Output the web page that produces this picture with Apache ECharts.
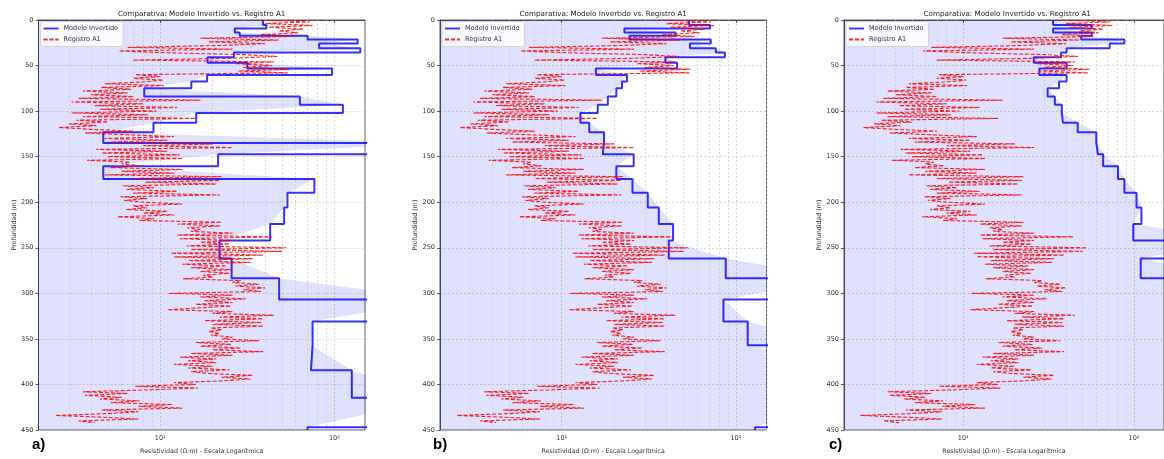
<!DOCTYPE html>
<html><head><meta charset="utf-8">
<script src="https://cdn.jsdelivr.net/npm/echarts@6/dist/echarts.min.js"></script>
<style>html,body{margin:0;padding:0;background:#fff}#c{width:1164px;height:459px}</style>
</head><body><div id="c"></div>
<script>
// ---- data ----
const layerTops = [0, 5.5, 9.2, 13.8, 17.2, 21.3, 25.8, 31, 35.6, 41, 46.8, 53.3, 60.5, 67.6, 75, 84, 93, 102.2, 112.8, 123.2, 135, 147.4, 160.5, 174.6, 189.5, 205.8, 223.8, 241.9, 261.9, 283.4, 306.7, 331, 357, 384.5, 414.7, 446.9];
const depthMax = 450;

const modeloA = [38.9, 40.7, 26.8, 28.6, 70.2, 136, 81.8, 141, 26.5, 18.7, 31.6, 97, 18.6, 15.1, 8.1, 63.4, 112, 16.1, 9.15, 4.71, 400, 21.5, 4.71, 76.8, 53.8, 51.5, 42.8, 21.9, 25.7, 48.2, 400, 75, 73.4, 126, 400, 70.2];
const modeloB = [53.8, 71.1, 22.9, 45.1, 24.5, 71.8, 54.5, 76.7, 86.5, 39.4, 46, 15.7, 23.7, 22.2, 20.6, 18.4, 16.1, 12.8, 14.4, 17.5, 17.2, 25.9, 20.6, 25.5, 31.2, 36.1, 43.6, 41.2, 87.5, 400, 84.9, 117, 400, 400, 400, 129];
const modeloC = [33.6, 56.6, 33.6, 56.6, 49.1, 87.9, 72.1, 40.3, 37.4, 25.9, 40.3, 27.9, 40.3, 36.4, 31.2, 34.4, 37.8, 38.4, 46.8, 60.2, 61.5, 66.0, 80.6, 87.9, 103.5, 110.6, 99.1, 400, 109.6, 400, 400, 400, 400, 400, 400, 400];

// Registro A1: one value every 2 m from 0 m
const registroStep = 2;
const registroA1 = [
 38, 72, 40, 75, 42, 66, 48, 62, 38, 58,
 17, 48, 19, 40, 22, 6.5, 26, 5.8, 11, 30,
 47, 26, 7, 45, 27, 44, 30, 55, 28, 54,
 7.2, 10, 7, 10.4, 8, 4.8, 10.5, 4.6, 6.8, 3.6,
 6.5, 4, 7, 3.4, 17, 3.1, 8, 4.2, 12.5, 4.5,
 9.5, 3.1, 8.5, 3.6, 16, 3.3, 5, 3, 4.3, 2.6,
 4, 7, 3.7, 6.5, 12, 4.8, 11, 5.2, 20, 8,
 26, 4.3, 11, 4.6, 13, 5, 13.5, 3.8, 6.7, 6,
 7.7, 5.2, 13.4, 6, 12, 4.8, 22.5, 7, 22, 8.2,
 21, 6.1, 9.2, 6.4, 12.5, 7, 22, 5.9, 8.4, 6.2,
 8, 13.4, 7, 8.4, 6.4, 11, 8, 12, 5.7, 9.2,
 7.6, 22.5, 12.6, 22, 14.3, 17, 15, 26, 12.5, 44,
 13, 26, 17, 25, 14.2, 53, 15, 50, 11.5, 39,
 12, 34, 14.5, 33, 13.4, 24, 15, 26, 17, 25,
 17.7, 20, 13.5, 29, 26, 37, 27, 40, 30, 38,
 11.2, 26, 17, 31, 18, 26, 16, 25.5, 16.5, 11,
 26, 20, 45, 22, 39, 18, 38, 20, 39, 19.5,
 22.5, 19, 22, 19.5, 26, 22.5, 37, 16, 25.5, 17,
 29, 20, 39, 15, 26, 13, 21, 14.5, 21, 12,
 20, 14.5, 25, 15, 19, 34, 22.5, 33, 23, 12,
 16, 7.2, 16.5, 8.5, 3.6, 6.5, 3.7, 6, 4.5, 7.6,
 5.2, 11.7, 7.5, 13.4, 4.6, 7.5, 5, 2.5, 4.7, 7.5,
 3.4, 4.2
];

const xMin = 2, xMax = 150;
const xMinorGrid = [3, 4, 5, 6, 7, 8, 9, 20, 30, 40, 50, 60, 70, 80, 90];
const panelLabels = ['a)', 'b)', 'c)'];
const titleText = 'Comparativa: Modelo Invertido vs. Registro A1';
const yName = 'Profundidad (m)';
const xName = 'Resistividad (Ω·m) - Escala Logarítmica';
const seriesNames = ['Modelo Invertido', 'Registro A1'];

// ---- build ----
const FONT = 'DejaVu Sans';
const panels = [
  { left: 38.5, model: modeloA, labelX: 32 },
  { left: 440, model: modeloB, labelX: 433 },
  { left: 844, model: modeloC, labelX: 829 }
];
const GW = 326.5, GT = 20, GH = 412.3;
const ICON_SOLID = 'path://M0,0h16v2h-16z';
const ICON_DASH = 'path://M0,0h4.5v2h-4.5zM6.3,0h4.5v2h-4.5zM12.6,0h3.4v2h-3.4z';

function stepPoints(model) {
  const pts = [];
  for (let i = 0; i < model.length; i++) {
    const top = layerTops[i];
    const bot = i + 1 < layerTops.length ? layerTops[i + 1] : depthMax;
    pts.push([model[i], top], [model[i], bot]);
  }
  return pts;
}
function bandPoints(model) {
  const pts = model.map((v, i) => [v, layerTops[i]]);
  pts.push([model[model.length - 1], depthMax]);
  pts.push([1, depthMax], [1, 0]);
  return pts;
}
const registroPts = registroA1.map((v, i) => [v, i * registroStep]);

const sup = { 0: '⁰', 1: '¹', 2: '²', 3: '³' };
function logLabel(v) {
  const p = Math.log10(v);
  if (Math.abs(p - Math.round(p)) < 1e-6) return '10' + sup[Math.round(p)];
  return '';
}

const grids = [], xAxes = [], yAxes = [], series = [], legends = [], graphics = [];
panels.forEach((p, k) => {
  grids.push({ left: p.left, top: GT, width: GW, height: GH, show: true, borderColor: '#333', borderWidth: 0.8, backgroundColor: 'transparent', containLabel: false });
  xAxes.push({
    type: 'log', logBase: 10, min: xMin, max: xMax, gridIndex: k,
    name: xName, nameLocation: 'middle', nameGap: 18,
    nameTextStyle: { fontFamily: FONT, fontSize: 6.3, color: '#333' },
    axisLine: { show: true, lineStyle: { color: '#333', width: 0.8 } },
    axisTick: { show: true, length: 3, lineStyle: { color: '#333', width: 0.8 } },
    axisLabel: { formatter: logLabel, fontFamily: FONT, fontSize: 6.5, color: '#333', margin: 5, showMinLabel: false, showMaxLabel: false },
    splitLine: { show: true, lineStyle: { color: '#c8c8c8', type: [2, 2], width: 0.7 } }
  });
  yAxes.push({
    type: 'value', inverse: true, min: 0, max: depthMax, interval: 50, gridIndex: k,
    name: yName, nameLocation: 'middle', nameGap: 20, nameRotate: 90,
    nameTextStyle: { fontFamily: FONT, fontSize: 6.3, color: '#333' },
    axisLine: { show: true, lineStyle: { color: '#333', width: 0.8 } },
    axisTick: { show: true, length: 3, lineStyle: { color: '#333', width: 0.8 } },
    axisLabel: { fontFamily: FONT, fontSize: 6.5, color: '#333', margin: 5 },
    splitLine: { show: true, lineStyle: { color: '#c8c8c8', type: [2, 2], width: 0.7 } }
  });
  const band = bandPoints(p.model);
  series.push({
    type: 'custom', xAxisIndex: k, yAxisIndex: k, clip: true, silent: true, z: 1,
    data: band,
    renderItem: function (params, api) {
      if (params.dataIndex !== 0) return;
      return { type: 'polygon', shape: { points: band.map(pt => api.coord(pt)) }, style: { fill: 'rgba(0,0,255,0.12)' } };
    }
  });
  series.push({
    type: 'line', name: seriesNames[0], xAxisIndex: k, yAxisIndex: k, z: 3,
    data: stepPoints(p.model), showSymbol: false, symbol: 'none', clip: true,
    lineStyle: { color: 'rgba(0,0,255,0.8)', width: 2 }, itemStyle: { color: 'rgba(0,0,255,0.8)' },
    markLine: {
      silent: true, z: 2, symbol: ['none', 'none'], label: { show: false }, animation: false,
      lineStyle: { color: '#c8c8c8', type: [2, 2], width: 0.7 },
      emphasis: { disabled: true },
      data: xMinorGrid.map(v => ({ xAxis: v }))
    }
  });
  series.push({
    type: 'line', name: seriesNames[1], xAxisIndex: k, yAxisIndex: k, z: 4,
    data: registroPts, showSymbol: false, symbol: 'none', clip: true,
    lineStyle: { color: 'rgba(255,0,0,0.85)', width: 1.1, type: [4, 1.8] }, itemStyle: { color: 'rgba(255,0,0,0.85)' }
  });
  legends.push({
    left: p.left + 2, top: 21.5, orient: 'vertical', itemWidth: 15, itemHeight: 2, itemGap: 3,
    padding: [3, 5, 3, 3], textStyle: { fontFamily: FONT, fontSize: 6.5, color: '#333', lineHeight: 8 },
    backgroundColor: 'rgba(255,255,255,0.85)', borderColor: '#cccccc', borderWidth: 0.8, borderRadius: 2,
    data: [{ name: seriesNames[0], icon: ICON_SOLID }, { name: seriesNames[1], icon: ICON_DASH }],
    selectedMode: false
  });
  graphics.push({ type: 'text', x: p.left + GW / 2, y: 14, style: { text: titleText, font: '7.2px "DejaVu Sans"', fill: '#222', textAlign: 'center', textVerticalAlign: 'middle' } });
  graphics.push({ type: 'text', x: p.labelX, y: 445, style: { text: panelLabels[k], font: 'bold 15px "Liberation Sans"', fill: '#000', textAlign: 'left', textVerticalAlign: 'middle' } });
});

const chart = echarts.init(document.getElementById('c'), null, { renderer: 'canvas' });
chart.setOption({
  animation: false,
  backgroundColor: '#fff',
  grid: grids, xAxis: xAxes, yAxis: yAxes, series: series, legend: legends, graphic: graphics
});
</script></body></html>
